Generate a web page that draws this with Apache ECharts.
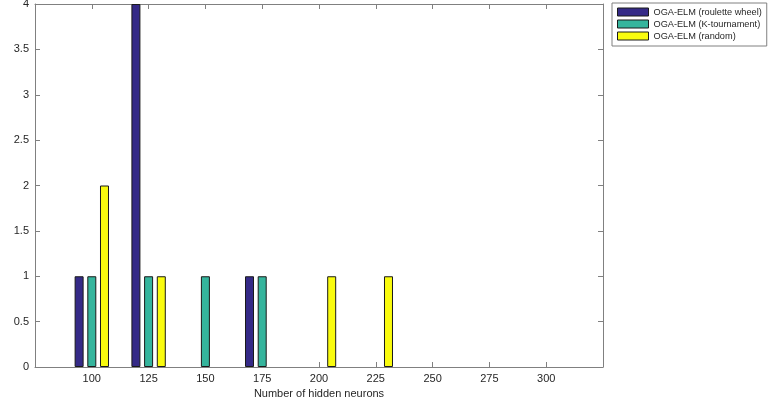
<!DOCTYPE html>
<html>
<head>
<meta charset="utf-8">
<script src="https://cdn.jsdelivr.net/npm/echarts@6/dist/echarts.min.js"></script>
<style>
  html, body { margin: 0; padding: 0; background: #fff; }
  #chart { width: 769px; height: 400px; }
</style>
</head>
<body>
<div id="chart"></div>
<script>
// x 轴位置 (75 ~ 325, 两端不显示标签)
var categories = ['75', '100', '125', '150', '175', '200', '225', '250', '275', '300', '325']
var tickLabels = ['100', '125', '150', '175', '200', '225', '250', '275', '300']
// 各方法的 False Positive 数量 (null = 无柱)
var roulette = [null, 1, 4, null, 1, null, null, null, null, null, null]
var tournament = [null, 1, 1, 1, 1, null, null, null, null, null, null]
var random = [null, 2, 1, null, null, 1, 1, null, null, null, null]
var seriesNames = ['OGA-ELM (roulette wheel)', 'OGA-ELM (K-tournament)', 'OGA-ELM (random)']
var colors = ['#352A87', '#35B59D', '#F9FB0E']

var axisColor = '#808080'
var textColor = '#262626'
var font = 'Liberation Sans, Arial, sans-serif'

var myChart = echarts.init(document.getElementById('chart'))

function makeBar(name, data, color) {
  return {
    name: name,
    type: 'bar',
    data: data,
    barWidth: 9,
    barGap: '41%',
    itemStyle: { color: color, borderColor: '#1a1a1a', borderWidth: 1 }
  }
}

// 刻度朝内 / 轴线不贴零
function tick() {
  return { show: true, inside: true, length: 5, interval: 0, lineStyle: { color: axisColor } }
}
function line() {
  return { show: true, onZero: false, lineStyle: { color: axisColor } }
}

var option = {
  animation: false,
  color: colors,
  grid: { left: 35, top: 4, right: 166, bottom: 33, containLabel: false, outerBoundsMode: 'none' },
  legend: {
    orient: 'vertical',
    left: 612,
    top: 3,
    padding: [3, 5, 4, 5],
    itemGap: 0,
    itemWidth: 31,
    itemHeight: 8,
    borderColor: axisColor,
    borderWidth: 1,
    icon: 'rect',
    textStyle: { fontSize: 9.2, fontFamily: font, color: textColor, lineHeight: 12 },
    itemStyle: { borderColor: '#1a1a1a', borderWidth: 1 },
    data: seriesNames
  },
  xAxis: [
    {
      type: 'category',
      data: categories,
      boundaryGap: false,
      position: 'bottom',
      name: 'Number of hidden neurons',
      nameLocation: 'middle',
      nameGap: 19,
      nameTextStyle: { fontSize: 11, fontFamily: font, color: textColor },
      axisLine: line(),
      axisTick: tick(),
      axisLabel: {
        margin: 6,
        fontSize: 11,
        fontFamily: font,
        color: textColor,
        interval: 0,
        formatter: function (v) { return tickLabels.indexOf(v) >= 0 ? v : '' }
      },
      splitLine: { show: false }
    },
    {
      type: 'category',
      data: categories,
      boundaryGap: false,
      position: 'top',
      axisLine: line(),
      axisTick: tick(),
      axisLabel: { show: false },
      splitLine: { show: false }
    }
  ],
  yAxis: [
    {
      type: 'value',
      min: 0,
      max: 4,
      interval: 0.5,
      position: 'left',
      name: 'False Positive',
      nameLocation: 'middle',
      nameGap: 27,
      nameTextStyle: { fontSize: 11, fontFamily: font, color: textColor },
      axisLine: line(),
      axisTick: tick(),
      axisLabel: { margin: 6, fontSize: 11, fontFamily: font, color: textColor },
      splitLine: { show: false }
    },
    {
      type: 'value',
      min: 0,
      max: 4,
      interval: 0.5,
      position: 'right',
      axisLine: line(),
      axisTick: tick(),
      axisLabel: { show: false },
      splitLine: { show: false }
    }
  ],
  series: [
    makeBar(seriesNames[0], roulette, colors[0]),
    makeBar(seriesNames[1], tournament, colors[1]),
    makeBar(seriesNames[2], random, colors[2])
  ]
}

myChart.setOption(option)
</script>
</body>
</html>
